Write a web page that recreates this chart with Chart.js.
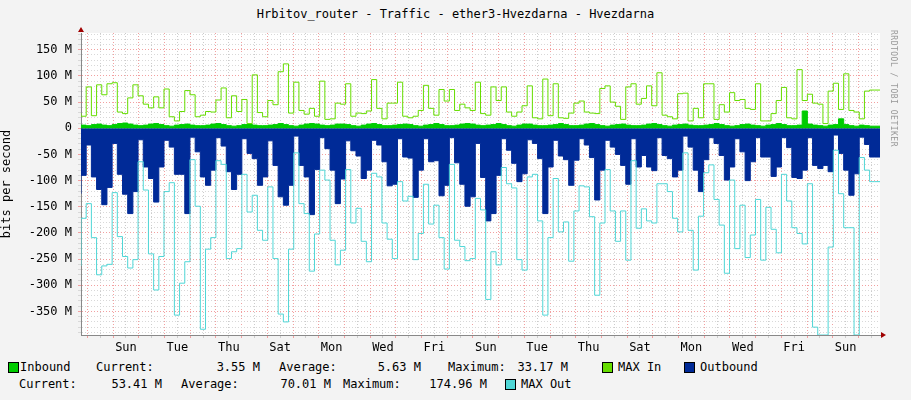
<!DOCTYPE html>
<html>
<head>
<meta charset="utf-8">
<script src="https://cdn.jsdelivr.net/npm/chart.js@4"></script>
<style>
  body { margin: 0; background: #f3f3f3; width: 911px; height: 400px; overflow: hidden; position: relative;
         font-family: "DejaVu Sans Mono", monospace; font-size: 12px; color: #000; }
  #title { position: absolute; top: 7px; left: 0; width: 911px; text-align: center; }
  #c { position: absolute; left: 0; top: 0; }
  #side { position: absolute; left: 898px; top: 30px; transform-origin: 0 0; transform: rotate(90deg);
          font-size: 8px; color: #999; white-space: nowrap; letter-spacing: 0.5px; }
  .t { position: absolute; white-space: pre; line-height: 14px; }
  .r { text-align: right; }
  .sw { position: absolute; width: 9px; height: 9px; border: 1px solid #000; }
</style>
</head>
<body>
<div id="title">Hrbitov_router - Traffic - ether3-Hvezdarna - Hvezdarna</div>
<canvas id="c" width="911" height="360"></canvas>
<div id="side">RRDTOOL / TOBI OETIKER</div>

<div class="sw" style="left:8px;top:362px;background:#00cc00"></div>
<div class="t" style="left:20px;top:360px">Inbound</div>
<div class="t" style="left:96px;top:360px">Current:</div>
<div class="t r" style="left:180px;width:80px;top:360px">3.55 M</div>
<div class="t" style="left:279px;top:360px">Average:</div>
<div class="t r" style="left:341px;width:80px;top:360px">5.63 M</div>
<div class="t" style="left:448px;top:360px">Maximum:</div>
<div class="t r" style="left:488px;width:80px;top:360px">33.17 M</div>
<div class="sw" style="left:602px;top:362px;background:#66dd00"></div>
<div class="t" style="left:618px;top:360px">MAX In</div>
<div class="sw" style="left:684px;top:362px;background:#002a97"></div>
<div class="t" style="left:700px;top:360px">Outbound</div>

<div class="t" style="left:19px;top:377px">Current:</div>
<div class="t r" style="left:82px;width:80px;top:377px">53.41 M</div>
<div class="t" style="left:181px;top:377px">Average:</div>
<div class="t r" style="left:251px;width:80px;top:377px">70.01 M</div>
<div class="t" style="left:343px;top:377px">Maximum:</div>
<div class="t r" style="left:407px;width:80px;top:377px">174.96 M</div>
<div class="sw" style="left:505px;top:379px;background:#4fd6d6"></div>
<div class="t" style="left:521px;top:377px">MAX Out</div>
<script>
// values in M bits per second, one per 4h step
const maxIn = [29,23,79,24,83,64,85,87,31,28,58,83,62,46,39,60,39,75,22,14,32,72,64,22,25,32,31,54,77,20,62,32,55,9,102,30,22,53,45,108,
  123,29,88,34,27,38,23,90,17,18,48,46,85,23,29,28,33,93,38,18,48,48,88,23,20,23,34,82,38,25,74,52,74,34,46,39,34,88,28,25,
  79,53,79,31,23,31,43,81,20,18,94,24,85,20,19,29,48,52,31,29,28,76,81,50,42,17,79,85,46,57,81,43,106,25,22,18,66,67,14,
  38,20,85,85,17,45,31,68,53,55,38,36,85,14,14,28,53,78,20,18,112,53,65,48,46,9,71,86,36,104,34,31,18,71,73];
const inbound = [5,6,5,7,8,6, 5,7,9,10,8,6, 5,6,8,9,7,5, 4,6,7,8,6,5, 5,6,8,9,7,5, 4,5,7,8,6,5, 5,6,7,9,7,5, 4,6,8,9,8,6,
  5,6,8,8,7,5, 4,6,8,9,7,5, 5,6,7,8,7,5, 4,6,7,9,7,5, 5,6,8,9,8,6, 5,6,7,9,7,5, 4,6,8,8,6,5, 5,6,7,9,7,5,
  5,6,8,9,7,5, 4,6,7,8,6,5, 5,6,8,9,7,5, 4,6,7,8,6,5, 5,6,7,9,7,5, 4,5,7,8,6,5, 4,6,7,9,7,5,
  5,6,33,8,6,5, 4,6,7,18,7,5, 4,6,5,4];
const outbound = [-125,-90,-32,-93,-117,-146,-113,-29,-88,-126,-163,-121,-22,-74,-96,-141,-74,-23,-36,-88,-88,-163,-17,-45,-93,-109,-80,-18,-34,-83,-117,-88,-20,-48,-58,-109,-93,-24,-71,-131,
  -147,-109,-15,-71,-93,-165,-79,-18,-39,-80,-144,-97,-24,-43,-53,-96,-80,-23,-32,-64,-110,-107,-20,-55,-57,-132,-80,-20,-64,-62,-129,-109,-18,-66,-107,-149,-131,-29,-94,-177,
  -163,-90,-20,-42,-67,-102,-87,-22,-29,-58,-163,-74,-23,-53,-60,-109,-61,-20,-32,-56,-137,-80,-23,-36,-50,-71,-107,-20,-74,-52,-74,-81,-18,-52,-58,-93,-80,-15,-36,
  -80,-121,-60,-18,-29,-52,-99,-74,-20,-45,-100,-64,-18,-55,-55,-92,-74,-18,-37,-94,-96,-80,-18,-71,-77,-71,-83,-13,-48,-80,-128,-87,-17,-31,-55];
const maxOut = [-263,-172,-144,-209,-280,-263,-260,-123,-207,-245,-267,-251,-64,-118,-240,-309,-245,-121,-104,-357,-296,-255,-60,-149,-384,-231,-209,-62,-69,-249,-236,-230,-88,-160,-128,-195,-214,-112,-249,-355,
  -370,-231,-47,-144,-163,-273,-202,-80,-99,-214,-261,-233,-79,-181,-153,-216,-255,-86,-93,-181,-212,-249,-102,-139,-130,-251,-201,-107,-183,-147,-209,-269,-69,-214,-226,-253,-249,-134,-156,-327,
  -236,-261,-75,-106,-114,-251,-271,-93,-88,-177,-357,-209,-96,-198,-179,-254,-158,-110,-112,-169,-319,-181,-79,-158,-216,-158,-252,-62,-191,-154,-177,-181,-106,-106,-121,-172,-198,-47,-195,
  -271,-168,-85,-70,-136,-185,-277,-99,-230,-147,-247,-204,-136,-252,-151,-193,-238,-88,-139,-190,-201,-221,-106,-380,-395,-395,-227,-42,-125,-190,-190,-395,-56,-80,-102];
const dayNames = ['Sat','Sun','Mon','Tue','Wed','Thu','Fri'];
const yLabels = [150,100,50,0,-50,-100,-150,-200,-250,-300,-350];

const TOTAL_DAYS = 31.09;
const n = maxIn.length;
function pts(arr) {
  const out = arr.map((v, i) => ({ x: i * TOTAL_DAYS / n, y: v }));
  out.push({ x: TOTAL_DAYS, y: arr[arr.length - 1] });
  return out;
}
const base = { stepped: 'after', pointRadius: 0, borderWidth: 1 };

const arrows = {
  id: 'arrows',
  afterDraw(chart) {
    const { ctx, chartArea: a } = chart;
    ctx.save();
    ctx.fillStyle = '#a00000';
    ctx.beginPath(); ctx.moveTo(a.left - 3, a.top - 1); ctx.lineTo(a.left + 3, a.top - 1); ctx.lineTo(a.left, a.top - 6); ctx.fill();
    ctx.beginPath(); ctx.moveTo(a.right + 1, a.bottom - 3); ctx.lineTo(a.right + 1, a.bottom + 3); ctx.lineTo(a.right + 6, a.bottom); ctx.fill();
    ctx.restore();
  }
};
const plotBg = {
  id: 'plotBg',
  beforeDraw(chart) {
    const { ctx, chartArea: a } = chart;
    ctx.save(); ctx.fillStyle = '#fff'; ctx.fillRect(a.left, a.top, a.right - a.left, a.bottom - a.top); ctx.restore();
  }
};

new Chart(document.getElementById('c'), {
  type: 'line',
  data: {
    datasets: [
      { ...base, label: 'Inbound', data: pts(inbound), borderColor: '#00cc00', backgroundColor: '#00cc00', fill: 'origin', order: 3 },
      { ...base, label: 'Outbound', data: pts(outbound), borderColor: '#002a97', backgroundColor: '#002a97', fill: 'origin', order: 4 },
      { ...base, label: 'MAX In', data: pts(maxIn), borderColor: '#66dd00', fill: false, order: 1 },
      { ...base, label: 'MAX Out', data: pts(maxOut), borderColor: '#4fd6d6', fill: false, order: 2 }
    ]
  },
  options: {
    responsive: false, animation: false,
    devicePixelRatio: 1,
    layout: { padding: { top: 33, right: 31, left: 0, bottom: 0 } },
    plugins: { legend: { display: false }, tooltip: { enabled: false } },
    scales: {
      x: {
        type: 'linear', min: 0, max: TOTAL_DAYS,
        afterBuildTicks(s) {
          const t = [];
          for (let d = 0.25; d < TOTAL_DAYS; d += 0.5) t.push({ value: d });
          s.ticks = t;
        },
        afterFit(s) { s.height = 25; },
        ticks: {
          autoSkip: false, maxRotation: 0, color: '#000',
          font: { family: 'DejaVu Sans Mono', size: 12 },
          callback(v) {
            const k = Math.floor(v - 0.25);
            const noon = Math.abs(v - 0.25 - k - 0.5) < 0.01;
            return noon && k % 2 === 1 ? dayNames[k % 7] : '';
          }
        },
        grid: {
          color(c) { return c.index % 2 === 0 ? '#f2a0a0' : '#cccccc'; },
          tickLength: 3, drawTicks: true
        },
        border: { dash: [1, 2], color: '#888' }
      },
      y: {
        min: -395, max: 182,
        afterBuildTicks(s) {
          const t = [];
          for (let v = -390; v <= 180; v += 10) t.push({ value: v });
          s.ticks = t;
        },
        afterFit(s) { s.width = 81; },
        title: { display: true, text: 'bits per second', color: '#000', font: { family: 'DejaVu Sans Mono', size: 12 }, padding: 0 },
        ticks: {
          autoSkip: false, color: '#000', padding: 6,
          font: { family: 'DejaVu Sans Mono', size: 12 },
          callback(v) {
            if (!yLabels.includes(v)) return '';
            return v === 0 ? '0' : v + ' M';
          }
        },
        grid: {
          color(c) { return c.tick && c.tick.value % 50 === 0 ? '#f2a0a0' : '#d8d8d8'; },
          tickLength: 3
        },
        border: { dash: [1, 2], color: '#888' }
      }
    }
  },
  plugins: [plotBg, arrows]
});
</script>
</body>
</html>
